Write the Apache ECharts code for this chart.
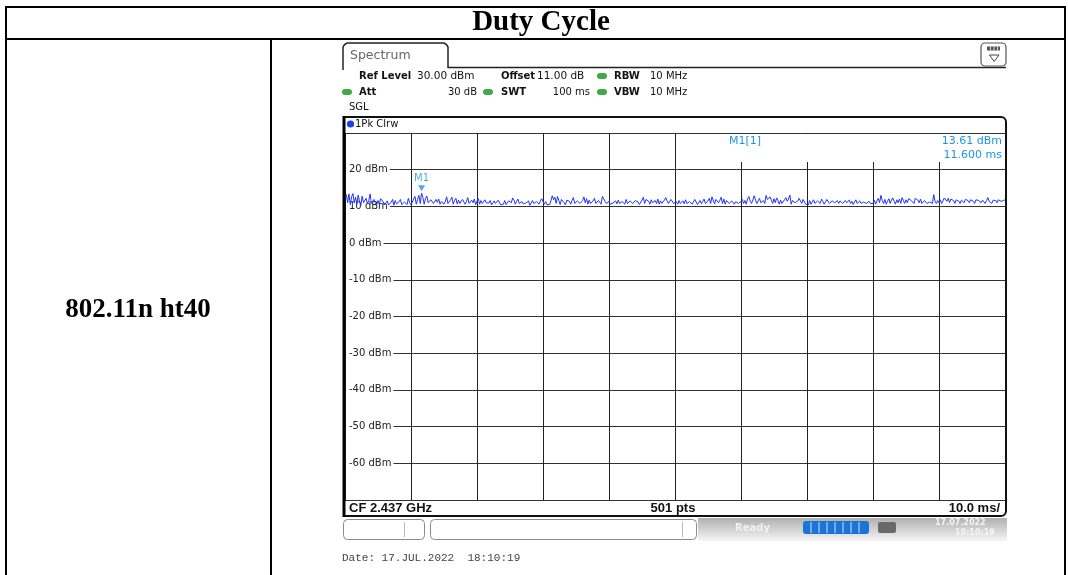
<!DOCTYPE html>
<html>
<head>
<meta charset="utf-8">
<title>Duty Cycle</title>
<script src="https://cdn.jsdelivr.net/npm/echarts/dist/echarts.min.js"></script>
<style>
  html, body { margin: 0; padding: 0; background: #fff; }
  #chart { width: 1068px; height: 575px; }
</style>
</head>
<body>
<div id="chart"></div>
<script>
// Sweep settings of the zero-span measurement
const sweepTimeMs = 100;
const sweepPoints = 501;
const levelRange = [-70, 30];
const levelStep = 10;
const timeStep = 10;

// Trace level in dBm, one value per sweep point (0.2 ms apart)
const traceDbm = [
  12.0,13.2,11.0,13.4,10.5,12.6,13.5,10.9,12.5,10.6,13.1,11.4,10.3,12.8,11.0,10.5,12.2,10.7,11.6,13.4,10.8,10.5,11.9,11.0,10.4,
  11.6,10.6,12.1,12.6,11.2,10.4,10.7,11.5,10.4,10.6,11.1,11.9,10.3,11.6,10.7,10.5,11.3,11.9,10.5,10.6,11.2,11.7,10.5,12.2,11.0,
  10.4,10.6,12.0,12.7,10.6,11.9,13.0,10.8,13.61,12.4,10.6,12.2,12.8,11.0,10.5,11.8,12.1,10.8,10.6,11.9,11.1,12.0,10.6,11.3,11.7,
  10.6,11.4,12.6,10.8,10.5,11.8,12.5,10.6,11.6,12.2,10.7,11.7,10.8,10.4,11.9,12.1,10.6,11.4,12.4,10.8,10.4,11.7,11.0,12.0,10.5,
  11.4,12.1,10.6,11.6,10.8,10.4,11.8,11.0,10.5,10.9,11.6,10.4,10.7,11.5,10.8,10.5,11.7,11.2,10.4,10.9,10.6,11.6,10.5,10.9,11.5,
  11.9,11.0,12.3,11.7,10.6,11.4,12.0,10.8,10.5,11.3,10.7,10.4,10.9,10.5,11.5,10.3,10.7,11.6,10.8,10.5,11.3,11.8,10.6,11.5,12.1,
  11.6,10.6,11.3,10.5,10.9,10.5,11.5,12.9,11.8,12.5,10.8,12.7,11.6,10.5,11.9,12.3,11.0,10.4,11.7,12.2,11.4,10.6,11.6,12.4,10.8,
  10.5,11.5,12.0,10.8,10.6,11.6,12.6,11.0,12.1,10.6,11.7,10.8,10.4,11.5,12.2,10.8,10.5,11.6,11.2,10.6,12.7,12.3,11.4,10.8,10.5,
  11.3,10.6,10.4,10.9,10.5,11.5,10.7,11.7,10.8,10.5,11.3,11.6,10.6,11.9,10.8,10.4,11.5,11.8,10.8,10.6,11.6,12.0,11.2,10.5,10.9,
  11.7,12.5,10.8,11.9,12.3,11.4,10.6,11.8,11.0,10.5,11.6,10.8,12.0,10.6,11.5,10.8,10.5,11.7,12.4,11.5,10.8,10.6,11.9,11.4,10.8,
  10.5,11.3,10.6,11.6,10.8,10.4,11.5,10.7,11.8,10.8,10.5,11.3,11.7,10.6,10.9,11.9,11.4,10.5,10.9,11.6,10.7,11.3,12.0,10.8,10.5,
  11.5,12.2,10.8,12.6,12.9,10.7,11.9,12.3,11.0,11.7,12.5,10.8,12.0,10.6,11.6,12.1,10.8,10.5,11.5,11.8,10.6,11.3,11.7,10.8,10.5,
  11.3,11.9,10.8,11.6,10.6,12.1,12.7,11.4,10.8,11.8,12.9,11.7,10.8,11.5,12.2,11.0,10.5,11.6,10.8,13.0,11.9,11.4,12.6,11.7,10.8,
  12.1,11.0,12.3,11.6,10.6,11.7,10.8,10.5,11.8,12.4,11.4,12.0,13.1,10.6,11.6,11.9,11.0,10.5,11.5,12.2,11.7,10.8,11.9,11.4,10.6,
  10.8,10.4,11.6,10.6,11.2,11.8,10.8,10.5,11.5,11.7,10.8,12.0,11.4,10.6,11.2,11.9,11.6,10.8,10.5,11.5,11.8,11.0,10.6,11.6,10.8,
  11.5,11.9,10.8,10.5,11.6,11.0,10.6,11.7,10.8,11.4,10.5,11.0,11.8,10.8,10.6,11.5,10.8,10.5,11.2,11.6,10.8,10.6,11.4,10.8,10.5,
  10.8,11.7,10.6,11.5,12.2,11.0,13.0,11.6,10.8,11.9,10.6,11.4,12.1,10.8,11.7,12.3,11.4,10.6,11.8,11.0,12.0,10.8,12.4,11.6,10.8,
  11.8,11.0,12.1,12.3,11.6,11.9,10.8,12.2,12.5,11.7,11.0,12.0,10.8,10.5,11.6,11.4,10.8,10.6,11.2,11.7,10.8,13.2,11.4,10.8,11.6,
  11.0,11.8,10.8,11.5,12.3,11.9,11.4,12.2,11.0,12.0,12.4,11.6,10.8,11.8,12.2,11.4,10.8,11.7,12.1,11.0,11.9,12.3,11.6,11.0,11.8,
  12.2,11.4,10.8,11.8,12.3,11.6,12.0,11.0,11.7,12.1,10.8,11.6,12.4,11.4,11.9,10.8,11.7,12.2,11.6,11.0,11.8,12.3,11.4,11.9,11.6,
  11.8
];

// Marker M1
const markerNames = ['M1'];
const markerTimeMs = [11.6];
const markerLevelDbm = [13.61];

// Setting read-outs
const headerRow1 = ['Ref Level', '30.00 dBm', 'Offset', '11.00 dB', 'RBW', '10 MHz'];
const headerRow2 = ['Att', '30 dB', 'SWT', '100 ms', 'VBW', '10 MHz'];
const footerTexts = ['CF 2.437 GHz', '501 pts', '10.0 ms/'];

const SANS = '"DejaVu Sans", Verdana, sans-serif';
const ARIAL = '"Liberation Sans", Arial, sans-serif';
const SERIF = '"Liberation Serif", "Times New Roman", serif';
const MARK_BLUE = '#1e96e2';

const traceData = traceDbm.map((v, i) => [i * sweepTimeMs / (sweepPoints - 1), v]);
const markerData = markerTimeMs.map((t, i) => ({ name: markerNames[i], value: [t, markerLevelDbm[i]] }));

function text(x, y, s, extra) {
  return {
    type: 'text', x: x, y: y, z: 20, silent: true,
    style: Object.assign({ text: s, font: '10px ' + SANS, fill: '#111', align: 'left', verticalAlign: 'middle' }, extra || {})
  };
}
function bold(x, y, s, extra) {
  return text(x, y, s, Object.assign({ font: 'bold 10px ' + SANS }, extra || {}));
}
function line(x1, y1, x2, y2, stroke, w, z) {
  return { type: 'line', z: z || 20, silent: true, shape: { x1, y1, x2, y2 }, style: { stroke: stroke, lineWidth: w } };
}
function led(cx, cy) {
  return { type: 'rect', z: 20, silent: true, shape: { x: cx - 5, y: cy - 3, width: 10, height: 6, r: 3 }, style: { fill: '#3eaa4c' } };
}

const elements = [
  // report table
  line(5, 7, 1066, 7, '#000', 2),
  line(5, 39, 1066, 39, '#000', 2),
  line(6, 6, 6, 575, '#000', 2),
  line(1065, 6, 1065, 575, '#000', 2),
  line(271, 39, 271, 575, '#000', 2),
  text(541, 23, 'Duty Cycle', { font: 'bold 29px ' + SERIF, fill: '#000', align: 'center' }),
  text(138, 310, '802.11n ht40', { font: 'bold 27px ' + SERIF, fill: '#000', align: 'center' }),

  // instrument tab
  { type: 'polyline', z: 20, silent: true,
    shape: { points: [[343, 70], [343, 47], [344.5, 44.5], [347, 43], [444, 43], [446.5, 44.5], [448, 47], [448, 67.5], [1006, 67.5]] },
    style: { stroke: '#222', lineWidth: 1.5, fill: null } },
  text(350, 55.5, 'Spectrum', { font: '12.5px ' + SANS, fill: '#666' }),
  { type: 'rect', z: 20, silent: true, shape: { x: 981, y: 43, width: 25, height: 23, r: 4 },
    style: { stroke: '#555', lineWidth: 1.2, fill: '#fff' } },
  { type: 'rect', z: 21, silent: true, shape: { x: 987, y: 46.5, width: 13, height: 4 }, style: { fill: '#555' } },
  line(990.5, 46.5, 990.5, 50.5, '#ddd', 1, 22),
  line(994, 46.5, 994, 50.5, '#ddd', 1, 22),
  line(997.5, 46.5, 997.5, 50.5, '#ddd', 1, 22),
  { type: 'polygon', z: 21, silent: true, shape: { points: [[989.5, 55], [999, 55], [994.2, 61.5]] },
    style: { stroke: '#444', lineWidth: 1, fill: null } },

  // setting read-outs
  bold(359, 76, headerRow1[0]), text(417, 76, headerRow1[1], { font: '10.5px ' + SANS }),
  bold(501, 76, headerRow1[2]), text(537, 76, headerRow1[3], { font: '10.5px ' + SANS }),
  led(602, 76), bold(614, 76, headerRow1[4]), text(650, 76, headerRow1[5]),
  led(347, 92), bold(359, 92, headerRow2[0]), text(477, 92, headerRow2[1], { align: 'right' }),
  led(488, 92), bold(501, 92, headerRow2[2]), text(590, 92, headerRow2[3], { align: 'right' }),
  led(602, 92), bold(614, 92, headerRow2[4]), text(650, 92, headerRow2[5]),
  text(349, 107.5, 'SGL'),

  // trace window frame
  { type: 'rect', z: 20, silent: true, shape: { x: 344, y: 117, width: 662, height: 399, r: [0, 5, 5, 0] },
    style: { stroke: '#111', lineWidth: 2, fill: null } },
  line(344, 116, 344, 517, '#000', 3),
  { type: 'circle', z: 20, silent: true, shape: { cx: 350.5, cy: 124, r: 3.6 }, style: { fill: '#1f3fe0' } },
  text(355, 124, '1Pk Clrw'),

  // marker read-out, over a blank strip of the diagram
  { type: 'rect', z: 10, silent: true, shape: { x: 676, y: 134, width: 328.5, height: 28 }, style: { fill: '#fff' } },
  text(729, 141, markerNames[0] + '[1]', { fill: MARK_BLUE, font: '11px ' + SANS }),
  text(1002, 141, markerLevelDbm[0].toFixed(2) + ' dBm', { fill: MARK_BLUE, font: '11px ' + SANS, align: 'right' }),
  text(1002, 155.5, markerTimeMs[0].toFixed(3) + ' ms', { fill: MARK_BLUE, font: '11px ' + SANS, align: 'right' }),

  // footer of the diagram
  text(349, 508, footerTexts[0], { font: 'bold 13px ' + ARIAL }),
  text(673, 508, footerTexts[1], { font: 'bold 13px ' + ARIAL, align: 'center' }),
  text(1000, 508, footerTexts[2], { font: 'bold 13px ' + ARIAL, align: 'right' }),

  // status bar
  { type: 'rect', z: 20, silent: true, shape: { x: 343.5, y: 519.5, width: 81, height: 20, r: 4 },
    style: { stroke: '#8a8a8a', lineWidth: 1, fill: '#fff' } },
  line(404.5, 522, 404.5, 537, '#bbb', 1),
  { type: 'rect', z: 20, silent: true, shape: { x: 430.5, y: 519.5, width: 266, height: 20, r: 4 },
    style: { stroke: '#8a8a8a', lineWidth: 1, fill: '#fff' } },
  line(682.5, 522, 682.5, 537, '#bbb', 1),
  { type: 'rect', z: 19, silent: true, shape: { x: 698, y: 518, width: 309, height: 23 },
    style: { fill: new echarts.graphic.LinearGradient(0, 0, 0, 1, [
      { offset: 0, color: '#b0b0b0' }, { offset: 0.55, color: '#d6d6d6' }, { offset: 1, color: '#f6f6f6' }]) } },
  text(735, 528, 'Ready', { font: 'bold 10px ' + SANS, fill: '#f2f2f2' }),
  { type: 'rect', z: 20, silent: true, shape: { x: 803, y: 521, width: 66, height: 13, r: 3 }, style: { fill: '#1c74d8' } },
  line(811, 522, 811, 533, '#cfe3fb', 1, 21), line(819, 522, 819, 533, '#cfe3fb', 1, 21),
  line(827, 522, 827, 533, '#cfe3fb', 1, 21), line(835, 522, 835, 533, '#cfe3fb', 1, 21),
  line(843, 522, 843, 533, '#cfe3fb', 1, 21), line(851, 522, 851, 533, '#cfe3fb', 1, 21),
  line(859, 522, 859, 533, '#cfe3fb', 1, 21),
  { type: 'rect', z: 20, silent: true, shape: { x: 878, y: 522, width: 18, height: 11, r: 2 }, style: { fill: '#6a6a6a' } },
  text(935, 523, '17.07.2022', { font: 'bold 8px ' + SANS, fill: '#f5f5f5' }),
  text(955, 533, '18:10:19', { font: 'bold 8px ' + SANS, fill: '#f5f5f5' }),

  text(342, 558, 'Date: 17.JUL.2022  18:10:19', { font: '11px "Liberation Mono", "Courier New", monospace', fill: '#444' })
];

const chart = echarts.init(document.getElementById('chart'), null, { renderer: 'canvas', width: 1068, height: 575 });
chart.setOption({
  animation: false,
  backgroundColor: '#fff',
  grid: { left: 345, right: 63, top: 133, bottom: 75 },
  xAxis: {
    type: 'value', min: 0, max: sweepTimeMs, interval: timeStep,
    axisLine: { show: false }, axisTick: { show: false }, axisLabel: { show: false },
    splitLine: { show: true, lineStyle: { color: '#222', width: 1 } }
  },
  yAxis: {
    type: 'value', min: levelRange[0], max: levelRange[1], interval: levelStep,
    axisLine: { show: false }, axisTick: { show: false },
    axisLabel: {
      inside: true, margin: 1, showMinLabel: false, showMaxLabel: false,
      formatter: '{value} dBm', color: '#222', fontSize: 10, fontFamily: SANS,
      backgroundColor: '#fff', padding: [1, 2, 1, 3]
    },
    splitLine: { show: true, lineStyle: { color: '#333', width: 1 } }
  },
  series: [
    {
      type: 'line', data: traceData, showSymbol: false, z: 3,
      lineStyle: { color: '#2233ff', width: 1 }, silent: true
    },
    {
      type: 'scatter', data: markerData, z: 4, silent: true,
      symbol: 'triangle', symbolRotate: 180, symbolSize: [7, 6], symbolOffset: [0, -5],
      itemStyle: { color: MARK_BLUE },
      label: { show: true, position: 'top', distance: 2, formatter: p => p.name,
               color: MARK_BLUE, fontSize: 10, fontFamily: SANS }
    }
  ],
  graphic: { elements: elements }
});
</script>
</body>
</html>
